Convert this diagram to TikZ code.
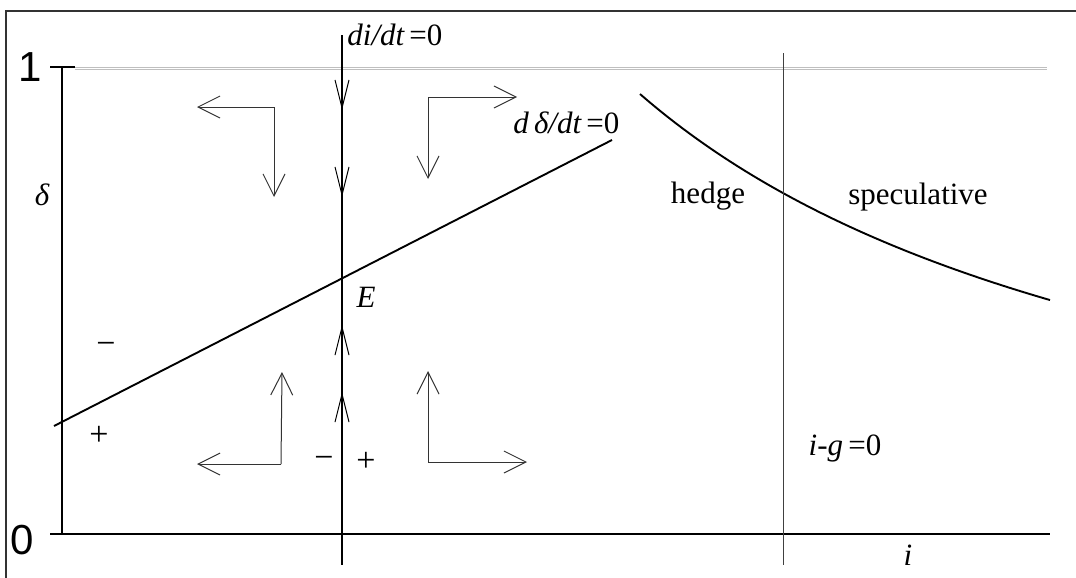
\documentclass[tikz,border=0pt]{standalone}
\usepackage{fontspec}
\setmainfont{Liberation Serif}
\newfontfamily\axisfont{Liberation Sans}
\usetikzlibrary{arrows.meta}

\begin{document}
\begin{tikzpicture}[
    x=0.5pt, y=-0.5pt, font=\fontsize{15.5}{18}\selectfont,
    frame/.style={black!80, line width=0.8pt},
    axis/.style={line width=1.3pt},
    nullcline/.style={line width=0.95pt},
    border/.style={line width=0.45pt, black!75},
    guide/.style={black!25, line width=0.35pt},
    flow/.style={line width=0.5pt, black!80,
                 -{Straight Barb[length=11pt, width=11pt, line width=0.5pt]}},
    midarrow/.style={line width=0.95pt,
                 -{Straight Barb[length=14pt, width=7pt, line width=0.5pt]}},
    lab/.style={inner sep=0pt},
    sign/.style={inner sep=0pt, font=\fontsize{17}{20}\selectfont},
    tick/.style={inner sep=0pt, font=\axisfont\fontsize{21}{24}\selectfont},
]
\useasboundingbox (0,0) rectangle (1076,578);

% Frame (left and top edges only)
\draw[frame] (1076,11) -- (6,11) -- (6,578);

% Axes and the line at delta = 1
\coordinate (O) at (62,534);
\coordinate (top) at (62,67);
\draw[guide] (75,67) -- (1047,67);
\draw[guide] (75,69.5) -- (1047,69.5);
\draw[axis] (50,534) -- (1050,534);
\draw[axis] (O) -- (top);
\draw[axis] (50,67) -- (75,67);
\node[tick] (one) at (30,67) {1};
\node[tick] (zero) at (22,540) {0};
\node[lab] (dlab) at (42,195) {\itshape δ};
\node[lab] (ilab) at (908,555) {\itshape i};

% di/dt = 0 (vertical nullcline) with its flow marks
\coordinate (vtop) at (342,35);
\coordinate (vbot) at (342,565);
\draw[nullcline] (vtop) -- (vbot);
\node[lab, anchor=west] (ilocus) at (347,35) {{\itshape di/dt}\,=0};
\foreach \y in {110,197} \draw[midarrow] (342,\y-40) -- (342,\y);
\foreach \y in {325,392} \draw[midarrow] (342,\y+40) -- (342,\y);

% d delta/dt = 0 (rising nullcline) and the equilibrium
\coordinate (dstart) at (54,426);
\coordinate (dend) at (612,140);
\draw[nullcline] (dstart) -- (dend);
\node[lab, anchor=west] (dlocus) at (513,123) {{\itshape d\,δ/dt}\,=0};
\node[lab] (E) at (366,297) {\itshape E};

% Hedge / speculative boundary
\draw[nullcline] plot[domain=640:1050, samples=60]
    (\x, {583.3 - 2758/((\x-76.3)/100)});
\coordinate (btop) at (783,53);
\coordinate (bbot) at (783,565);
\draw[border] (btop) -- (bbot);
\node[lab] (hedge) at (708,196) {hedge};
\node[lab] (spec) at (918,197) {speculative};
\node[lab] (ig) at (845,448) {{\itshape i}-{\itshape g}\,=0};

% Signs
\node[sign] (mA) at (106,348) {−};
\node[sign] (pA) at (99,436) {+};
\node[sign] (mB) at (324,462) {−};
\node[sign] (pB) at (366,462) {+};

% Phase arrows
\coordinate (q1) at (274,107);
\coordinate (q2) at (428,97);
\coordinate (q3) at (281,464);
\coordinate (q4) at (428,462);
\draw[flow] (q1) -- (197,107);
\draw[flow] (q1) -- (274,197);
\draw[flow] (q2) -- (517,97);
\draw[flow] (q2) -- (428,179);
\draw[flow] (q3) -- (197,464);
\draw[flow] (q3) -- (282,372);
\draw[flow] (q4) -- (527,462);
\draw[flow] (q4) -- (428,371);
\end{tikzpicture}
\end{document}
